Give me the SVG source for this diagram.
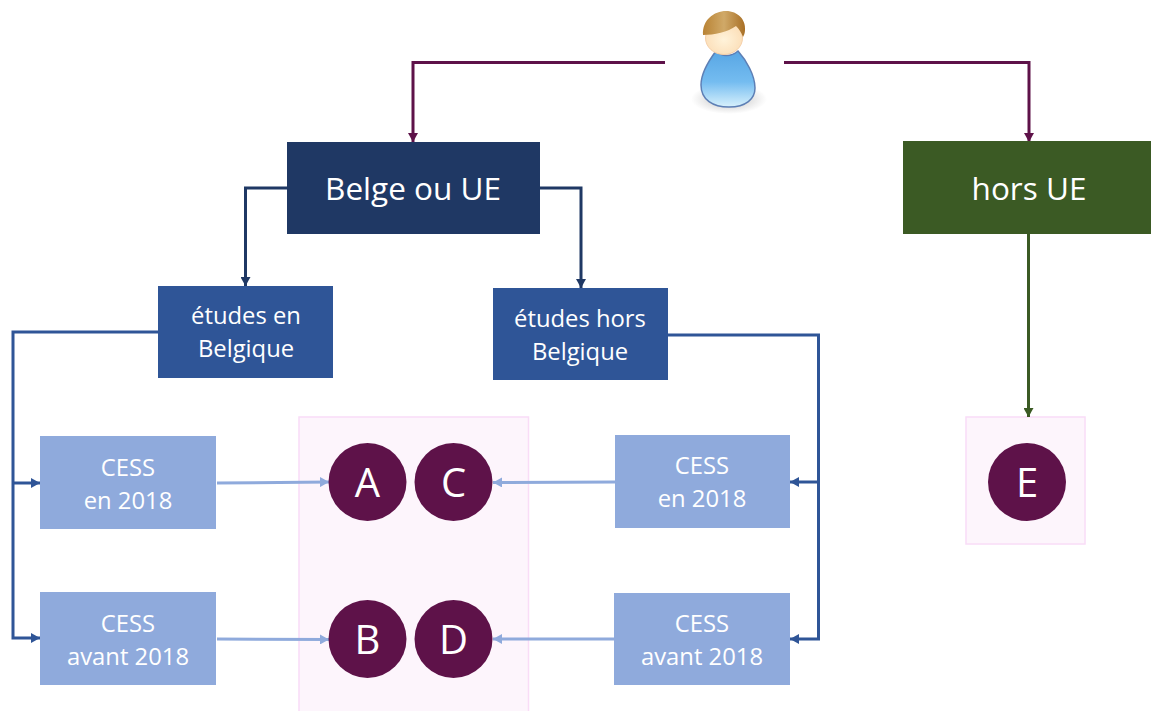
<svg xmlns="http://www.w3.org/2000/svg" width="1151" height="711" viewBox="0 0 1151 711">
<style>
text{font-family:"Open Sans","Noto Sans","Liberation Sans",sans-serif;fill:#fff;text-anchor:middle}
.big{font-size:31.500px}.mid{font-size:23.800px}.let{font-size:40px}
.c{fill:#5e1249}.zone{fill:#fdf5fc;stroke:#f9dcf7;stroke-width:1.5}
.lb{fill:#8faadc}.mb{fill:#2f5597}
.con{fill:none;stroke-width:3}
.p{stroke:#5e1249}.n{stroke:#1f3864}.b{stroke:#2f5597}.g{stroke:#3b5a24}.l{stroke:#8faadc}
</style>
<defs>
<marker id="mp" markerUnits="userSpaceOnUse" markerWidth="9" markerHeight="10" refX="9" refY="5" orient="auto"><path d="M0 0L9 5L0 10Z" fill="#5e1249"/></marker>
<marker id="mn" markerUnits="userSpaceOnUse" markerWidth="9" markerHeight="10" refX="9" refY="5" orient="auto"><path d="M0 0L9 5L0 10Z" fill="#1f3864"/></marker>
<marker id="mb" markerUnits="userSpaceOnUse" markerWidth="9" markerHeight="10" refX="9" refY="5" orient="auto"><path d="M0 0L9 5L0 10Z" fill="#2f5597"/></marker>
<marker id="mg" markerUnits="userSpaceOnUse" markerWidth="9" markerHeight="10" refX="9" refY="5" orient="auto"><path d="M0 0L9 5L0 10Z" fill="#3b5a24"/></marker>
<marker id="ml" markerUnits="userSpaceOnUse" markerWidth="9" markerHeight="10" refX="9" refY="5" orient="auto"><path d="M0 0L9 5L0 10Z" fill="#8faadc"/></marker>
<linearGradient id="body" x1="0" y1="0" x2="0" y2="1"><stop offset="0" stop-color="#58a6e4"/><stop offset=".55" stop-color="#74bcf0"/><stop offset="1" stop-color="#d8f1fc"/></linearGradient>
<linearGradient id="hair" x1="0" y1="0" x2="1" y2="0"><stop offset="0" stop-color="#b98334"/><stop offset=".5" stop-color="#d0a968"/><stop offset="1" stop-color="#a86f25"/></linearGradient>
<radialGradient id="face" cx=".5" cy=".55" r=".6"><stop offset="0" stop-color="#fff3da"/><stop offset="1" stop-color="#fbdcb4"/></radialGradient>
<radialGradient id="shadow"><stop offset="0" stop-color="#888" stop-opacity=".6"/><stop offset="1" stop-color="#999" stop-opacity="0"/></radialGradient>
</defs>
<g id="zone-abcd"><rect class="zone" x="299" y="417" width="229.500" height="295"/></g>
<g id="zone-e"><rect class="zone" x="966" y="417" width="119" height="127"/></g>
<g id="connectors">
<path class="con p" d="M665 62.500H413V142" marker-end="url(#mp)"/>
<path class="con p" d="M784 62.500H1029V142" marker-end="url(#mp)"/>
<path class="con n" d="M287 188H245.500V286" marker-end="url(#mn)"/>
<path class="con n" d="M540 188H581V288" marker-end="url(#mn)"/>
<path class="con g" d="M1028.500 234V417" marker-end="url(#mg)"/>
<path class="con b" d="M158 332H13V638H40" marker-end="url(#mb)"/>
<path class="con b" d="M13 483H40" marker-end="url(#mb)"/>
<path class="con b" d="M668 335H818.500V639H790" marker-end="url(#mb)"/>
<path class="con b" d="M818.500 482H790" marker-end="url(#mb)"/>
<path class="con l" d="M217 483L329 482" marker-end="url(#ml)"/>
<path class="con l" d="M217 639L329 639.500" marker-end="url(#ml)"/>
<path class="con l" d="M615 482L493 482.500" marker-end="url(#ml)"/>
<path class="con l" d="M614 639H493" marker-end="url(#ml)"/>
</g>
<g id="user">
<ellipse cx="729" cy="99" rx="38" ry="15" fill="url(#shadow)"/>
<path d="M716 51C707 63 701 76 701 85C701 100 713 107 729 107C746 107 755 99 755 88C755 75 746 60 738 51C731 57 722 57 716 51Z" fill="url(#body)" stroke="#5d7fb5" stroke-width="1.500"/>
<ellipse cx="724" cy="38" rx="18.500" ry="16.500" fill="url(#face)" stroke="#f5cfa8"/>
<path d="M703 35C702 20 714 11 726 11C738 11 746 20 745 30C745 33 744 35 743 37C741 32 739 29 736 26C728 32 714 35 703 35Z" fill="url(#hair)"/>
</g>
<g id="belge"><rect x="287" y="142" width="253" height="92" fill="#1f3864"/><text class="big" x="413" y="200">Belge ou UE</text></g>
<g id="hors"><rect x="903" y="141" width="248" height="93" fill="#3b5a24"/><text class="big" x="1029" y="200">hors UE</text></g>
<g id="etudes-en"><rect class="mb" x="158" y="286" width="175" height="92"/><text class="mid" x="246" y="324">études en</text><text class="mid" x="246" y="357">Belgique</text></g>
<g id="etudes-hors"><rect class="mb" x="493" y="288" width="175" height="92"/><text class="mid" x="580" y="327">études hors</text><text class="mid" x="580" y="360">Belgique</text></g>
<g id="cess1"><rect class="lb" x="40" y="436" width="176" height="93"/><text class="mid" x="128" y="476">CESS</text><text class="mid" x="128" y="509">en 2018</text></g>
<g id="cess2"><rect class="lb" x="40" y="592" width="176" height="93"/><text class="mid" x="128" y="632">CESS</text><text class="mid" x="128" y="665">avant 2018</text></g>
<g id="cess3"><rect class="lb" x="615" y="435" width="175" height="93"/><text class="mid" x="702" y="474">CESS</text><text class="mid" x="702" y="507">en 2018</text></g>
<g id="cess4"><rect class="lb" x="614" y="593" width="176" height="92"/><text class="mid" x="702" y="632">CESS</text><text class="mid" x="702" y="665">avant 2018</text></g>
<g id="A"><circle class="c" cx="367.500" cy="482" r="39"/><text class="let" x="367.500" y="497">A</text></g>
<g id="C"><circle class="c" cx="453.500" cy="482" r="39"/><text class="let" x="453.500" y="497">C</text></g>
<g id="B"><circle class="c" cx="367.500" cy="639" r="39"/><text class="let" x="367.500" y="654">B</text></g>
<g id="D"><circle class="c" cx="453.500" cy="639" r="39"/><text class="let" x="453.500" y="654">D</text></g>
<g id="E"><circle class="c" cx="1027" cy="482" r="39"/><text class="let" x="1027" y="497">E</text></g>
</svg>
